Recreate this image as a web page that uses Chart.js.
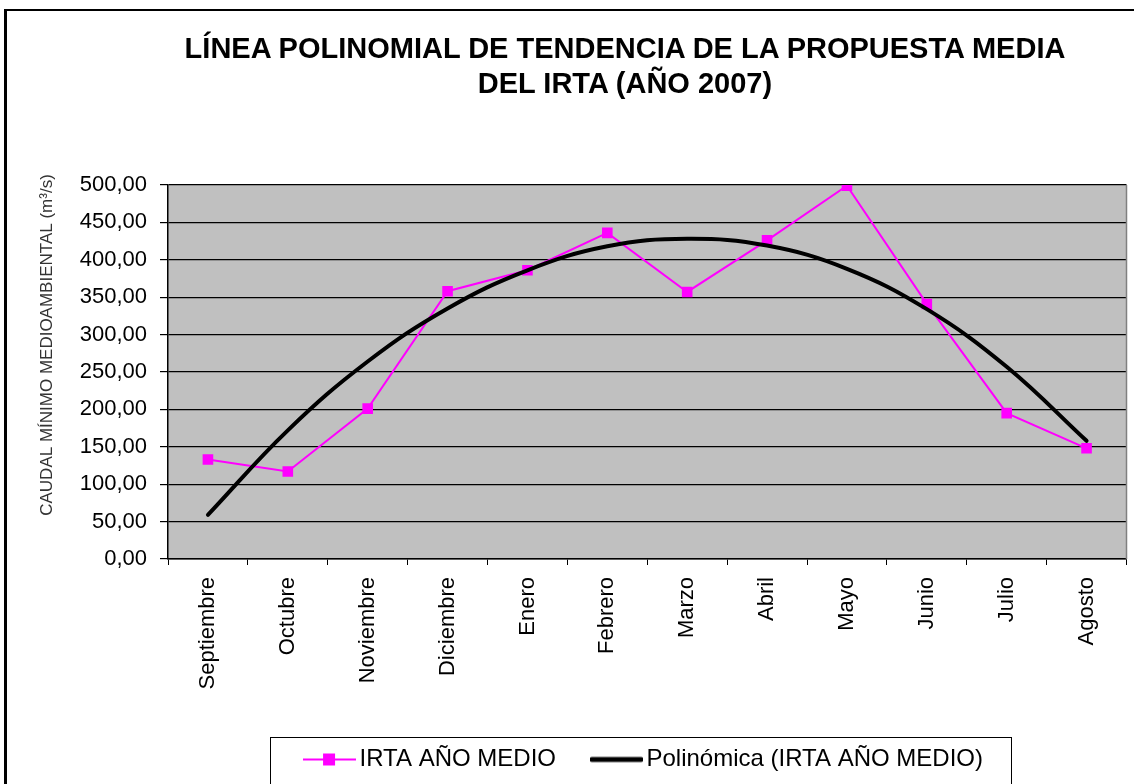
<!DOCTYPE html>
<html>
<head>
<meta charset="utf-8">
<script src="https://cdn.jsdelivr.net/npm/chart.js@4.4.1/dist/chart.umd.min.js"></script>
<style>
html, body { margin: 0; padding: 0; background: #fff; overflow: hidden; }
#frame { position: absolute; left: 4px; top: 9px; width: 1200px; height: 800px; border-left: 3px solid #000; border-top: 2px solid #000; }
#title { position: absolute; left: 116px; top: 31px; width: 1018px; text-align: center; font: bold 29px "Liberation Sans", Arial, sans-serif; line-height: 35px; color: #000; }
#wrap { position: absolute; left: 0; top: 0; width: 1134px; height: 784px; }
</style>
</head>
<body>
<div id="frame"></div>
<div id="wrap"><canvas id="chart" width="1134" height="784"></canvas></div>
<div id="title">LÍNEA POLINOMIAL DE TENDENCIA DE LA PROPUESTA MEDIA<br>DEL IRTA (AÑO 2007)</div>
<script>
const months = ["Septiembre", "Octubre", "Noviembre", "Diciembre", "Enero", "Febrero",
  "Marzo", "Abril", "Mayo", "Junio", "Julio", "Agosto"];
const irtaValues = [133, 117, 201, 358, 386, 436, 357, 426, 499, 341, 195, 148];
const trendValues = [59, 172, 264, 335, 386, 418, 428, 419, 388, 334, 257, 158];
const yMin = 0;
const yMax = 500;
const yStep = 50;

const seriesLabels = ["IRTA AÑO MEDIO", "Polinómica (IRTA AÑO MEDIO)"];
const axisTitle = "CAUDAL MÍNIMO MEDIOAMBIENTAL (m³/s)";

Chart.defaults.font.family = '"Liberation Sans", Arial, sans-serif';
Chart.defaults.color = "#000";

// legend icons: a short line, with the square marker for the data series
function makeIcon(color, width, withMarker) {
  const c = document.createElement("canvas");
  c.width = 53;
  c.height = 14;
  const g = c.getContext("2d");
  g.strokeStyle = color;
  g.lineWidth = width;
  g.lineCap = withMarker ? "butt" : "round";
  g.beginPath();
  g.moveTo(withMarker ? 0 : 2, 7);
  g.lineTo(withMarker ? 53 : 51, 7);
  g.stroke();
  if (withMarker) {
    g.fillStyle = color;
    g.fillRect(20, 1, 12, 12);
  }
  return c;
}
const legendIcons = [makeIcon("#ff00ff", 2, true), makeIcon("#000", 5, false)];

const plotBackground = {
  id: "plotBackground",
  beforeDraw(chart) {
    const { ctx, chartArea: a } = chart;
    ctx.save();
    ctx.fillStyle = "#c0c0c0";
    ctx.fillRect(a.left, a.top, a.right - a.left, a.bottom - a.top);
    ctx.restore();
  },
  beforeDatasetsDraw(chart) {
    const { ctx, chartArea: a } = chart;
    ctx.save();
    ctx.strokeStyle = "#808080";
    ctx.lineWidth = 1.5;
    ctx.beginPath();
    ctx.moveTo(a.right, a.top);
    ctx.lineTo(a.right, a.bottom);
    ctx.stroke();
    ctx.restore();
  }
};

// y axis title sits a bit above the middle of the axis, as in the original
const axisTitlePlugin = {
  id: "axisTitlePlugin",
  afterDraw(chart) {
    const ctx = chart.ctx;
    ctx.save();
    ctx.translate(47, 345);
    ctx.rotate(-Math.PI / 2);
    ctx.font = '17px "Liberation Sans", Arial, sans-serif';
    ctx.fillStyle = "#333";
    ctx.textAlign = "center";
    ctx.textBaseline = "middle";
    ctx.fillText(axisTitle, 0, 0);
    ctx.restore();
  }
};

const legendBox = {
  id: "legendBox",
  afterDraw(chart) {
    const boxes = chart.legend.legendHitBoxes;
    if (!boxes || !boxes.length) return;
    const first = boxes[0];
    const last = boxes[boxes.length - 1];
    const cy = first.top + first.height / 2;
    const left = Math.round(first.left - 42) + 0.5;
    const right = Math.round(last.left + last.width + 28) + 0.5;
    const top = Math.round(cy - 23) + 0.5;
    const ctx = chart.ctx;
    ctx.save();
    ctx.strokeStyle = "#000";
    ctx.lineWidth = 1;
    ctx.strokeRect(left, top, right - left, 100);
    ctx.restore();
  }
};

new Chart(document.getElementById("chart"), {
  type: "line",
  data: {
    labels: months,
    datasets: [
      {
        label: seriesLabels[0],
        data: irtaValues,
        borderColor: "#ff00ff",
        backgroundColor: "#ff00ff",
        borderWidth: 2,
        pointStyle: "rect",
        pointRadius: 7.5,
        pointBorderWidth: 0,
        tension: 0,
        order: 2
      },
      {
        label: seriesLabels[1],
        data: trendValues,
        borderColor: "#000",
        borderWidth: 4,
        pointRadius: 0,
        tension: 0.4,
        borderCapStyle: "round",
        order: 1
      }
    ]
  },
  options: {
    responsive: false,
    animation: false,
    layout: { padding: { left: 30, top: 185, right: 6, bottom: 2.5 } },
    plugins: {
      title: { display: false },
      tooltip: { enabled: false },
      legend: {
        position: "bottom",
        fullSize: false,
        labels: {
          usePointStyle: true,
          pointStyleWidth: 36,
          padding: 42.5,
          font: { size: 24 },
          color: "#000",
          generateLabels: (chart) => chart.data.datasets.map((ds, i) => ({
            text: ds.label,
            pointStyle: legendIcons[i],
            fontColor: "#000",
            fillStyle: "transparent",
            strokeStyle: "transparent",
            lineWidth: 0,
            hidden: false,
            datasetIndex: i
          }))
        }
      }
    },
    scales: {
      x: {
        offset: true,
        grid: {
          offset: true,
          drawOnChartArea: false,
          drawTicks: true,
          tickLength: 6,
          color: "#000"
        },
        border: { color: "#000", width: 1.5 },
        ticks: {
          minRotation: 90,
          maxRotation: 90,
          padding: 12,
          font: { size: 22 },
          color: "#000"
        },
        afterFit: (scale) => { scale.height = 146; }
      },
      y: {
        min: yMin,
        max: yMax,
        grid: {
          color: "#000",
          lineWidth: 1.2,
          tickLength: 8
        },
        border: { color: "#000", width: 1.5 },
        ticks: {
          stepSize: yStep,
          padding: 13,
          font: { size: 22 },
          color: "#000",
          callback: (v) => v.toFixed(2).replace(".", ",")
        },
        afterFit: (scale) => { scale.width = 138; }
      }
    }
  },
  plugins: [plotBackground, axisTitlePlugin, legendBox]
});
</script>
</body>
</html>
